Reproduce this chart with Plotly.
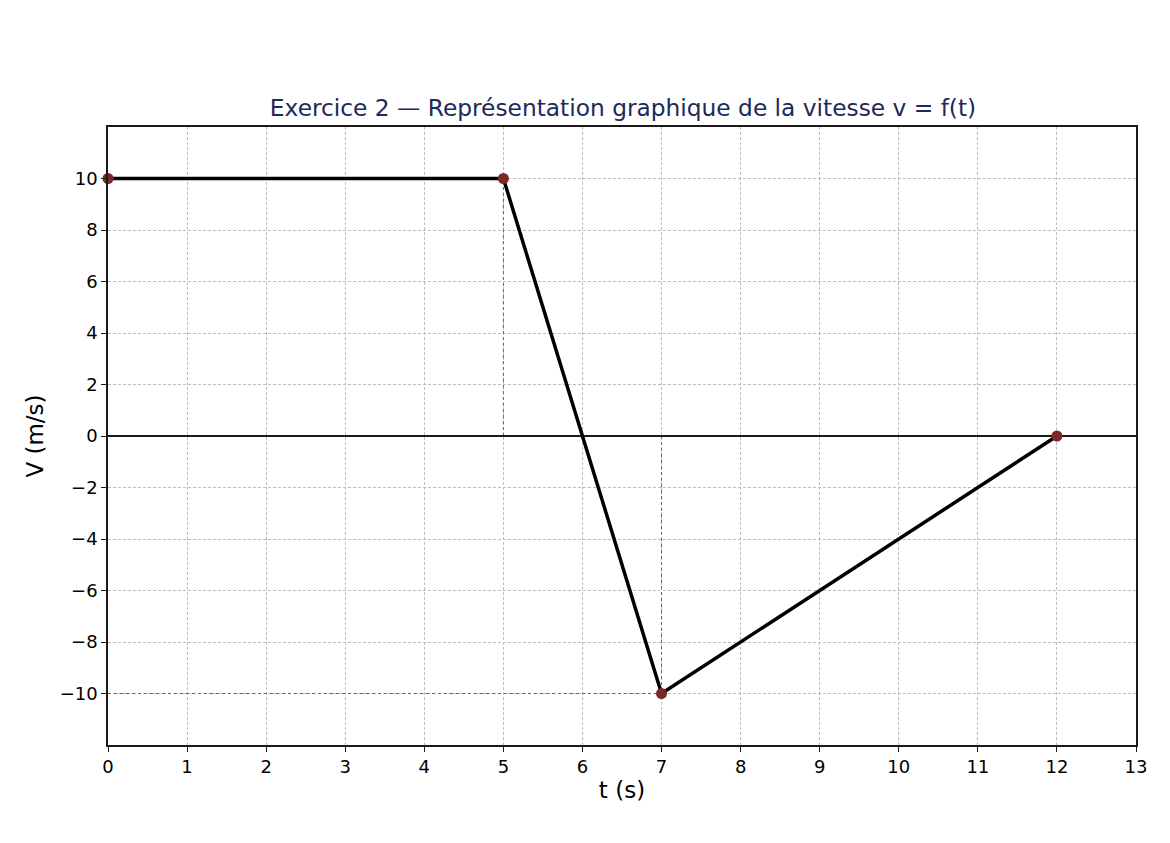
#%% imports

import plotly.graph_objects as go

#%% data

t_points = [0, 5, 7, 12]
v_points = [10, 10, -10, 0]

x_ticks = list(range(0, 14))
y_ticks = [-10, -8, -6, -4, -2, 0, 2, 4, 6, 8, 10]

title = 'Exercice 2 — Représentation graphique de la vitesse v = f(t)'
x_label = 't (s)'
y_label = 'V (m/s)'

#%% figure

fig = go.Figure()

# dotted guides from each point back to the axes
for t, v in zip(t_points, v_points):
  if t != 0 and v != 0:
    fig.add_trace(go.Scatter(x=[0, t], y=[v, v], mode='lines',
                             line=dict(color='#666666', width=1, dash='dot'),
                             hoverinfo='skip', showlegend=False))
    fig.add_trace(go.Scatter(x=[t, t], y=[0, v], mode='lines',
                             line=dict(color='#666666', width=1, dash='dot'),
                             hoverinfo='skip', showlegend=False))

# zero line
fig.add_trace(go.Scatter(x=[0, 13], y=[0, 0], mode='lines',
                         line=dict(color='#1a1a1a', width=2),
                         hoverinfo='skip', showlegend=False))

# v = f(t)
fig.add_trace(go.Scatter(x=t_points, y=v_points, mode='lines',
                         line=dict(color='black', width=3.5),
                         showlegend=False, cliponaxis=False))
fig.add_trace(go.Scatter(x=t_points, y=v_points, mode='markers',
                         marker=dict(color='#7a2828', size=11),
                         showlegend=False, cliponaxis=False))

# layout (page is offset by ~7px, margins compensate)
fig.update_layout(
  width=1170, height=843,
  paper_bgcolor='white', plot_bgcolor='white',
  font=dict(family='DejaVu Sans', size=18, color='black'),
  title=dict(text=title, x=(107 + 1137) / 2 / 1170 - 7 / 1170, xanchor='center',
             y=1 - 100/843, yanchor='middle',
             font=dict(size=23.3, color='#1b2a5a')),
  margin=dict(l=100, r=42, t=119, b=106),
)

axis_style = dict(showline=True, linecolor='#1a1a1a', linewidth=1.5, mirror=True,
                  ticks='outside', ticklen=5, tickwidth=1.2, tickcolor='#1a1a1a',
                  showgrid=True, gridcolor='#bdbdbd', gridwidth=0.8, griddash='3px,2px',
                  zeroline=False)

fig.update_xaxes(range=[0, 13], tickvals=x_ticks,
                 title=dict(text=x_label, font=dict(size=23), standoff=6),
                 **axis_style)
fig.update_yaxes(range=[-12, 12], tickvals=y_ticks,
                 ticktext=[str(v).replace('-', '−') for v in y_ticks],
                 title=dict(text=y_label, font=dict(size=23), standoff=10),
                 **axis_style)

fig.write_html("out.html")
